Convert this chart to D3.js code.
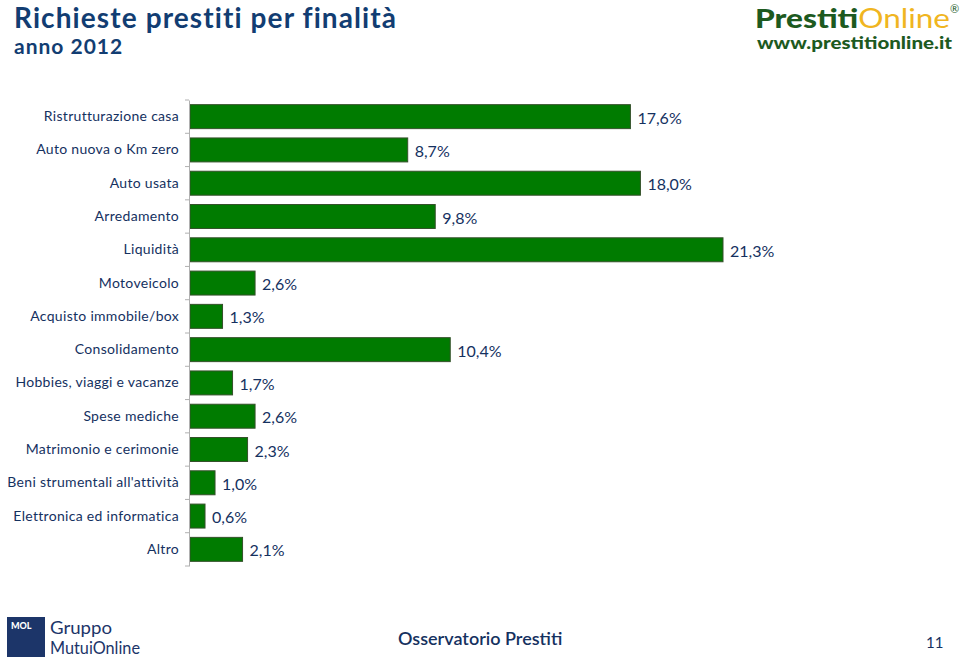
<!DOCTYPE html>
<html><head><meta charset="utf-8">
<script src="https://cdn.jsdelivr.net/npm/d3@7"></script>
<style>
body{margin:0;background:#fff;}
svg{display:block;}
</style></head>
<body>
<svg id="chart" width="960" height="660"></svg>
<script>
const categories = ["Ristrutturazione casa","Auto nuova o Km zero","Auto usata","Arredamento","Liquidità","Motoveicolo","Acquisto immobile/box","Consolidamento","Hobbies, viaggi e vacanze","Spese mediche","Matrimonio e cerimonie","Beni strumentali all'attività","Elettronica ed informatica","Altro"];
const values = [17.6, 8.7, 18.0, 9.8, 21.3, 2.6, 1.3, 10.4, 1.7, 2.6, 2.3, 1.0, 0.6, 2.1];
const title = "Richieste prestiti per finalità";
const subtitle = "anno 2012";

const svg = d3.select("#chart");
const navy = "#15315f";
const font = "Lato, 'Noto Sans', sans-serif";

const x = d3.scaleLinear().domain([0, 21.3]).range([190, 723]);
const y = d3.scaleBand().domain(categories).range([100, 566]).paddingInner(0.28).paddingOuter(0.14);

// title
svg.append("text").attr("x", 14).attr("y", 28).attr("font-family", font).attr("font-weight", 700)
  .attr("font-size", 28).attr("letter-spacing", 1.1).attr("fill", "#123d72").text(title);
svg.append("text").attr("x", 14).attr("y", 54).attr("font-family", font).attr("font-weight", 700)
  .attr("font-size", 21).attr("letter-spacing", 1).attr("fill", "#123d72").text(subtitle);

// logo
const logo = svg.append("text").attr("x", 755).attr("y", 28).attr("font-family", font).attr("font-size", 26)
  .attr("textLength", 195).attr("lengthAdjust", "spacingAndGlyphs");
logo.append("tspan").attr("font-weight", 900).attr("fill", "#1d5a1f").text("Prestiti");
logo.append("tspan").attr("font-weight", 400).attr("fill", "#f0b521").text("Online");
svg.append("text").attr("x", 950).attr("y", 13).attr("font-family", font).attr("font-size", 11).attr("fill", "#1d5a1f").text("®");
svg.append("text").attr("x", 757).attr("y", 49).attr("font-family", font).attr("font-weight", 900)
  .attr("font-size", 17).attr("textLength", 195).attr("lengthAdjust", "spacingAndGlyphs")
  .attr("fill", "#1d5a1f").text("www.prestitionline.it");

// bars
svg.append("g").selectAll("rect").data(values).join("rect")
  .attr("x", x(0)).attr("y", (d, i) => y(categories[i]))
  .attr("width", d => x(d) - x(0)).attr("height", y.bandwidth())
  .attr("fill", "#007b00").attr("stroke", "#34502a").attr("stroke-width", 1);

// value labels
const fmt = d => d3.format(".1f")(d).replace(".", ",") + "%";
svg.append("g").selectAll("text").data(values).join("text")
  .attr("x", d => x(d) + 7).attr("y", (d, i) => y(categories[i]) + y.bandwidth() / 2 + 7)
  .attr("font-family", font).attr("font-size", 16).attr("fill", navy).text(fmt);

// axis
const axis = d3.axisLeft(y).tickSize(0).tickPadding(10);
const ag = svg.append("g").attr("transform", "translate(189,0)").call(axis);
ag.select(".domain").attr("stroke", "#b0b0b0");
ag.selectAll(".tick text").attr("font-family", font).attr("font-size", 14)
  .attr("letter-spacing", 0.3).attr("fill", navy);
// boundary ticks
const step = y.step();
const bounds = d3.range(categories.length + 1).map(i => 100 + i * step);
svg.append("g").selectAll("line").data(bounds).join("line")
  .attr("x1", 185).attr("x2", 189).attr("y1", d => d).attr("y2", d => d)
  .attr("stroke", "#b0b0b0");

// footer
svg.append("rect").attr("x", 7).attr("y", 617).attr("width", 38).attr("height", 40).attr("fill", "#1c3569");
svg.append("text").attr("x", 11).attr("y", 629).attr("font-family", font).attr("font-weight", 900)
  .attr("font-size", 9).attr("fill", "#fff").text("MOL");
svg.append("text").attr("x", 50).attr("y", 634).attr("font-family", font)
  .attr("font-size", 17).attr("textLength", 62).attr("lengthAdjust", "spacingAndGlyphs")
  .attr("fill", "#1c3569").text("Gruppo");
svg.append("text").attr("x", 50).attr("y", 654).attr("font-family", font)
  .attr("font-size", 17).attr("textLength", 90).attr("lengthAdjust", "spacingAndGlyphs")
  .attr("fill", "#1c3569").text("MutuiOnline");
svg.append("text").attr("x", 398).attr("y", 645).attr("font-family", font).attr("font-weight", 600)
  .attr("font-size", 18).attr("fill", "#15315f").text("Osservatorio Prestiti");
svg.append("text").attr("x", 926).attr("y", 648).attr("font-family", font)
  .attr("font-size", 15).attr("fill", "#15315f").text("11");
</script>
</body></html>
